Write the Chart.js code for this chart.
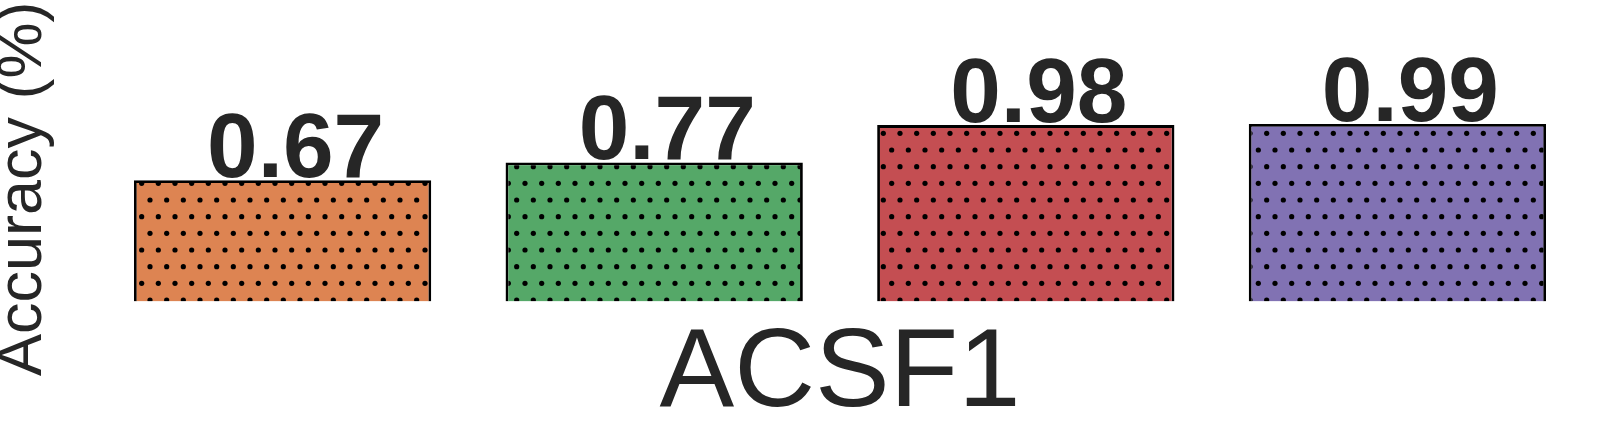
<!DOCTYPE html>
<html>
<head>
<meta charset="utf-8">
<script src="https://cdn.jsdelivr.net/npm/chart.js@4"></script>
<style>
  html, body { margin: 0; padding: 0; background: #ffffff; }
  #wrap { width: 1614px; height: 431px; }
</style>
</head>
<body>
<div id="wrap"><canvas id="c" width="1614" height="431"></canvas></div>
<script>
// ---- data ----
const categories = ['ACSF1'];
const seriesNames = ['Model A', 'Model B', 'Model C', 'Model D'];
const seriesValues = [0.674, 0.772, 0.98, 0.986];
const seriesColors = ['#DD8452', '#55A868', '#C44E52', '#8172B3'];
const yTitle = 'Accuracy (%)';

function dotPattern(color) {
  const size = 100, n = 6, step = size / n;
  const cv = document.createElement('canvas');
  cv.width = size; cv.height = size;
  const g = cv.getContext('2d');
  g.fillStyle = color;
  g.fillRect(0, 0, size, size);
  g.fillStyle = '#000000';
  for (let r = 0; r < n; r++) {
    for (let c = 0; c < n; c++) {
      const x = c * step + (r % 2 ? step / 2 : 0);
      const y = r * step;
      for (const dx of [-size, 0, size]) {
        for (const dy of [-size, 0, size]) {
          g.beginPath();
          g.arc(x + dx, y + dy, 2.6, 0, Math.PI * 2);
          g.fill();
        }
      }
    }
  }
  return g.createPattern(cv, 'repeat');
}

const datasets = seriesNames.map((name, i) => ({
  label: name,
  data: [seriesValues[i]],
  backgroundColor: dotPattern(seriesColors[i]),
  borderColor: '#000000',
  borderWidth: 2.8,
  borderSkipped: 'start'
}));

const valueLabels = {
  id: 'valueLabels',
  afterDatasetsDraw(chart) {
    const ctx = chart.ctx;
    ctx.save();
    ctx.font = 'bold 91px "Liberation Sans", Arial, sans-serif';
    ctx.fillStyle = '#262626';
    ctx.textAlign = 'center';
    ctx.textBaseline = 'alphabetic';
    chart.data.datasets.forEach((ds, i) => {
      const meta = chart.getDatasetMeta(i);
      meta.data.forEach((bar, j) => {
        const v = ds.data[j];
        ctx.fillText(v.toFixed(2), bar.x + 13, bar.y - 3.5);
      });
    });
    ctx.restore();
  }
};

new Chart(document.getElementById('c'), {
  type: 'bar',
  data: { labels: categories, datasets },
  options: {
    responsive: false,
    animation: false,
    devicePixelRatio: 1,
    layout: { padding: { left: 0, right: 30.8, top: 76, bottom: 4.6 } },
    plugins: { legend: { display: false }, tooltip: { enabled: false } },
    datasets: { bar: { categoryPercentage: 1.0, barPercentage: 0.8 } },
    scales: {
      x: {
        grid: { display: false, drawTicks: false },
        border: { display: false },
        afterFit(scale) { scale.height = 125; },
        ticks: {
          padding: 18,
          color: '#262626',
          font: { family: '"Liberation Sans", Arial, sans-serif', size: 112, lineHeight: 1 }
        }
      },
      y: {
        min: 0,
        max: 1.2528,
        grid: { display: false, drawTicks: false },
        border: { display: false },
        ticks: { display: false },
        title: {
          display: true,
          text: yTitle,
          color: '#262626',
          padding: { top: -8.3, bottom: 42.1 },
          font: { family: '"Liberation Sans", Arial, sans-serif', size: 63, lineHeight: 1 }
        }
      }
    }
  },
  plugins: [valueLabels]
});
</script>
</body>
</html>
